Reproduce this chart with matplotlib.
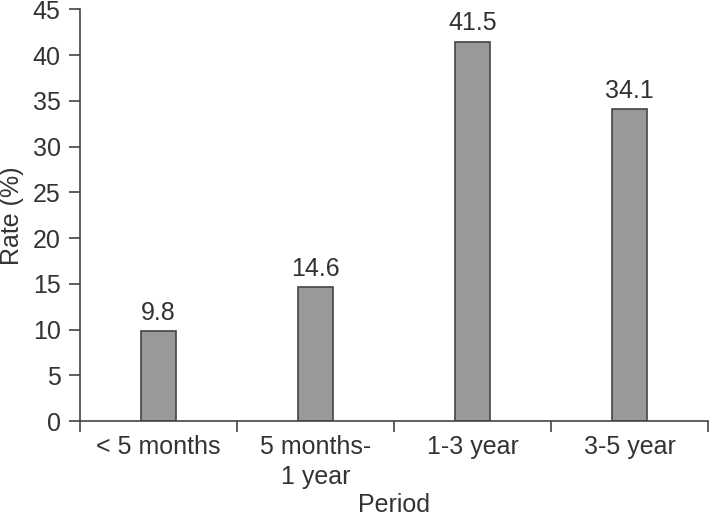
import matplotlib.pyplot as plt
from matplotlib.ticker import FixedLocator, NullFormatter

plt.rcParams['font.family'] = ['Liberation Sans', 'DejaVu Sans']

# Data
periods = ['< 5 months', '5 months-\n1 year', '1-3 year', '3-5 year']
rates = [9.8, 14.6, 41.5, 34.1]
yticks = [0, 5, 10, 15, 20, 25, 30, 35, 40, 45]

txt = '#333333'
fs = 18
fig = plt.figure(figsize=(7.09, 5.19), dpi=100)
ax = fig.add_axes([0.1128, 0.1888, 0.8858, 0.7929])

x = list(range(len(periods)))
ax.bar(x, rates, width=0.22, color='#999999', edgecolor='#444444', linewidth=1.2)
for xi, r in zip(x, rates):
    ax.text(xi, r + 0.7, f'{r}', ha='center', va='bottom', fontsize=fs, color=txt)

ax.set_xlim(-0.5, len(periods) - 0.5)
ax.set_ylim(0, 45)
ax.set_yticks(yticks)
ax.set_xticks(x)
ax.set_xticklabels(periods, fontsize=fs, color=txt, va='top', linespacing=1.3)
ax.xaxis.set_minor_locator(FixedLocator([i - 0.5 for i in range(len(periods) + 1)]))
ax.xaxis.set_minor_formatter(NullFormatter())
ax.tick_params(axis='x', which='major', length=0, pad=10)
ax.tick_params(axis='x', which='minor', length=8, width=1.2, color='#444444', direction='out')
ax.tick_params(axis='y', length=8, width=1.2, color='#444444', labelsize=fs, labelcolor=txt, pad=6)

for s in ['top', 'right']:
    ax.spines[s].set_visible(False)
for s in ['left', 'bottom']:
    ax.spines[s].set_color('#444444')
    ax.spines[s].set_linewidth(1.2)

ax.set_xlabel('Period', fontsize=fs, color=txt, va='baseline')
ax.xaxis.set_label_coords(0.5, -0.222)
ax.set_ylabel('Rate (%)', fontsize=fs, color=txt, labelpad=6)

fig.savefig('out.png', dpi=100)
